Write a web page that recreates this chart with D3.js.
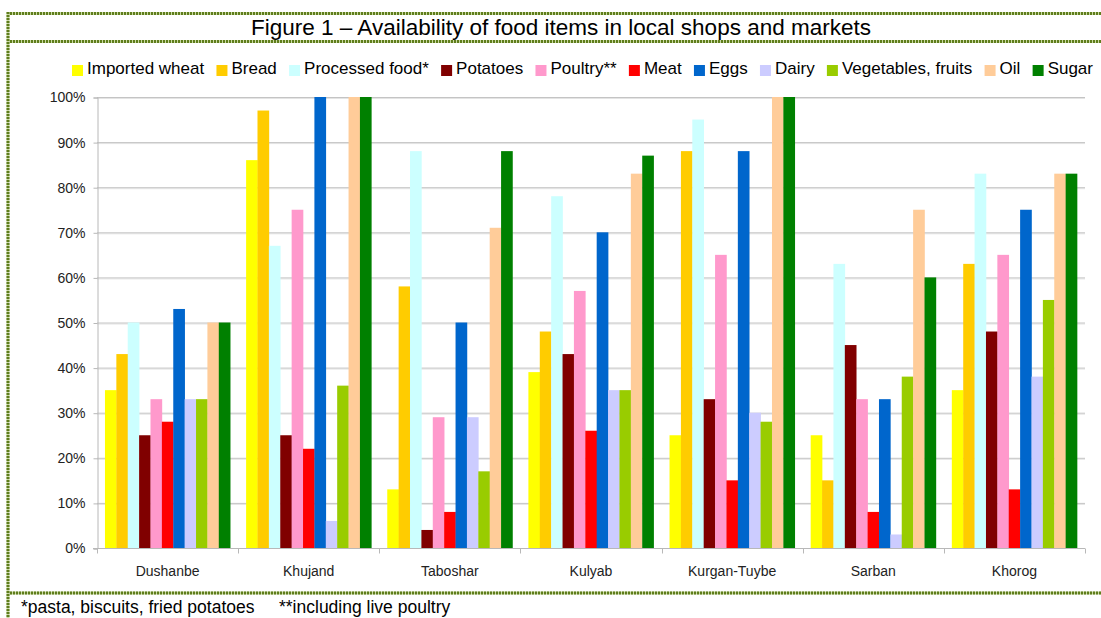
<!DOCTYPE html>
<html>
<head>
<meta charset="utf-8">
<script src="https://cdn.jsdelivr.net/npm/d3@7"></script>
<style>
  html, body { margin: 0; padding: 0; background: #fff; }
  svg { display: block; font-family: "Liberation Sans", Arial, sans-serif; }
</style>
</head>
<body>
<svg id="chart" width="1101" height="618"></svg>
<script>
// Towns surveyed
const categories = ["Dushanbe", "Khujand", "Taboshar", "Kulyab", "Kurgan-Tuybe", "Sarban", "Khorog"];

// Food items (legend order) and their fill colours
const seriesNames = ["Imported wheat", "Bread", "Processed food*", "Potatoes", "Poultry**", "Meat", "Eggs", "Dairy", "Vegetables, fruits", "Oil", "Sugar"];
const seriesColors = ["#ffff00", "#ffcc00", "#ccffff", "#800000", "#ff99cc", "#ff0000", "#0066cc", "#ccccff", "#99cc00", "#ffcc99", "#008000"];

// Share of shops/markets where each item is available (%), one value per town
const importedWheat = [35, 86, 13, 39, 25, 25, 35];
const bread         = [43, 97, 58, 48, 88, 15, 63];
const processedFood = [50, 67, 88, 78, 95, 63, 83];
const potatoes      = [25, 25, 4, 43, 33, 45, 48];
const poultry       = [33, 75, 29, 57, 65, 33, 65];
const meat          = [28, 22, 8, 26, 15, 8, 13];
const eggs          = [53, 100, 50, 70, 88, 33, 75];
const dairy         = [33, 6, 29, 35, 30, 3, 38];
const vegetables    = [33, 36, 17, 35, 28, 38, 55];
const oil           = [50, 100, 71, 83, 100, 75, 83];
const sugar         = [50, 100, 88, 87, 100, 60, 83];

const yTicks = [0, 10, 20, 30, 40, 50, 60, 70, 80, 90, 100];

const seriesValues = [importedWheat, bread, processedFood, potatoes, poultry, meat, eggs, dairy, vegetables, oil, sugar];

const svg = d3.select("#chart");
const W = 1101, H = 618;
const plot = { left: 97, right: 1085, top: 97, bottom: 548 };

svg.append("rect").attr("width", W).attr("height", H).attr("fill", "#fff");

// Scales
const x0 = d3.scaleBand().domain(categories).range([plot.left, plot.right]).paddingInner(0).paddingOuter(0);
const x1 = d3.scaleBand().domain(seriesNames).range([0, x0.bandwidth()]).paddingInner(0).paddingOuter(0.7);
const y = d3.scaleLinear().domain([0, 100]).range([plot.bottom, plot.top]);

// Horizontal gridlines
const grid = svg.append("g");
yTicks.filter(t => t > 0).forEach(t => {
  grid.append("line")
    .attr("x1", plot.left).attr("x2", plot.right)
    .attr("y1", y(t) + 1.5).attr("y2", y(t) + 1.5)
    .attr("stroke", "#e4e4e4").attr("stroke-width", 1);
  grid.append("line")
    .attr("x1", plot.left).attr("x2", plot.right)
    .attr("y1", y(t) + 0.5).attr("y2", y(t) + 0.5)
    .attr("stroke", "#c4c4c4").attr("stroke-width", 1);
});

// Bars
const groups = svg.append("g").selectAll("g")
  .data(categories)
  .join("g")
  .attr("transform", d => `translate(${x0(d)},0)`);

groups.selectAll("rect")
  .data((c, ci) => seriesNames.map((s, si) => ({ s, si, v: seriesValues[si][ci] })))
  .join("rect")
  .attr("x", d => x1(d.s))
  .attr("width", x1.bandwidth() + 0.3)
  .attr("y", d => y(d.v))
  .attr("height", d => y(0) - y(d.v))
  .attr("fill", d => seriesColors[d.si]);

// Y axis
const yAxis = d3.axisLeft(y)
  .tickValues(yTicks)
  .tickSize(4)
  .tickPadding(8)
  .tickFormat(d => d + "%");
const yg = svg.append("g").attr("transform", `translate(${plot.left + 0.5},0.5)`).call(yAxis);
yg.select(".domain").attr("stroke", "#b8b8b8");
yg.selectAll(".tick line").attr("stroke", "#b8b8b8");
yg.selectAll(".tick text")
  .attr("font-family", "Liberation Sans, Arial, sans-serif")
  .attr("font-size", 14).attr("fill", "#222");

// X axis: ticks at group boundaries
const xg = svg.append("g").attr("transform", `translate(0,${plot.bottom + 0.5})`);
xg.append("line")
  .attr("x1", plot.left - 4).attr("x2", plot.right)
  .attr("stroke", "#b8b8b8");
const bounds = categories.map(c => x0(c)).concat([plot.right]);
xg.selectAll("line.tk")
  .data(bounds)
  .join("line")
  .attr("class", "tk")
  .attr("x1", d => Math.round(d) + 0.5).attr("x2", d => Math.round(d) + 0.5)
  .attr("y1", 0).attr("y2", 5)
  .attr("stroke", "#b8b8b8");
xg.selectAll("text")
  .data(categories)
  .join("text")
  .attr("x", d => x0(d) + x0.bandwidth() / 2)
  .attr("y", 27)
  .attr("text-anchor", "middle")
  .attr("font-size", 14)
  .attr("fill", "#222")
  .text(d => d);

// Title
svg.append("text")
  .attr("x", 561).attr("y", 35)
  .attr("text-anchor", "middle")
  .attr("font-size", 22.5)
  .attr("fill", "#000")
  .text("Figure 1 – Availability of food items in local shops and markets");

// Legend, justified across its row
const legendLeft = 72, legendRight = 1093, sw = 11, swGap = 4;
const lg = svg.append("g");
const items = seriesNames.map((name, i) => {
  const g = lg.append("g");
  g.append("rect").attr("width", sw).attr("height", sw).attr("y", 65).attr("fill", seriesColors[i]);
  const t = g.append("text").attr("x", sw + swGap).attr("y", 74)
    .attr("font-size", 17).attr("fill", "#000").text(name);
  return { g, w: sw + swGap + t.node().getComputedTextLength() };
});
const totalW = d3.sum(items, d => d.w);
const gap = (legendRight - legendLeft - totalW) / (items.length - 1);
let cx = legendLeft;
items.forEach(it => {
  it.g.attr("transform", `translate(${cx},0)`);
  cx += it.w + gap;
});

// Footnote
svg.append("text")
  .attr("x", 21).attr("y", 613)
  .attr("font-size", 17.5).attr("fill", "#000")
  .attr("xml:space", "preserve")
  .text("*pasta, biscuits, fried potatoes");
svg.append("text")
  .attr("x", 279).attr("y", 613)
  .attr("font-size", 17.5).attr("fill", "#000")
  .text("**including live poultry");

// Dotted frame lines
function dotted(x1, y1, x2, y2) {
  svg.append("line").attr("x1", x1).attr("y1", y1).attr("x2", x2).attr("y2", y2)
    .attr("stroke", "#c9d9a3").attr("stroke-width", 3);
  svg.append("line").attr("x1", x1).attr("y1", y1).attr("x2", x2).attr("y2", y2)
    .attr("stroke", "#5f7d1c").attr("stroke-width", 3).attr("stroke-dasharray", "2,1");
}
dotted(7, 13.5, W, 13.5);
dotted(7, 41.5, W, 41.5);
dotted(7, 593, W, 593);
dotted(8, 12, 8, H);
</script>
</body>
</html>
